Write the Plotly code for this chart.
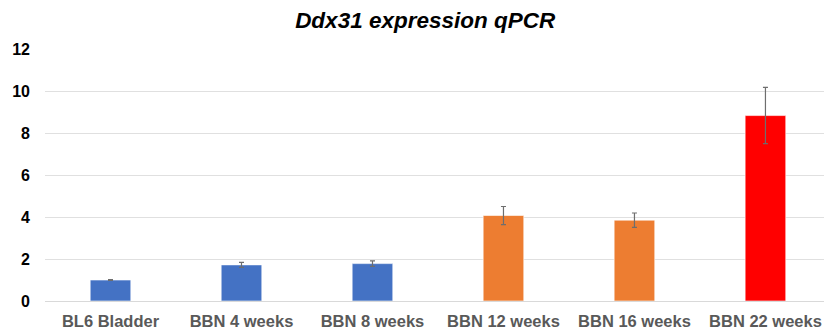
import plotly.graph_objects as go

categories = ["BL6 Bladder", "BBN 4 weeks", "BBN 8 weeks", "BBN 12 weeks", "BBN 16 weeks", "BBN 22 weeks"]
values = [1.0, 1.72, 1.78, 4.07, 3.85, 8.83]
errors = [0.02, 0.12, 0.13, 0.43, 0.34, 1.34]
colors = ["#4472C4", "#4472C4", "#4472C4", "#ED7D31", "#ED7D31", "#FF0000"]
y_ticks = [0, 2, 4, 6, 8, 10, 12]

fig = go.Figure(go.Bar(
    x=categories, y=values,
    marker=dict(color=colors, line=dict(color="rgba(255,255,255,0.6)", width=1)),
    width=0.31,
    error_y=dict(type="data", array=errors, visible=True, color="#6e6e6e", thickness=1.2, width=2.5),
))

fig.update_layout(
    width=824, height=329,
    margin=dict(l=45, r=0, t=49, b=28, autoexpand=False),
    paper_bgcolor="white", plot_bgcolor="white",
    showlegend=False,
    title=dict(text="<b><i>Ddx31 expression qPCR</i></b>", x=0.516, xanchor="center",
               y=1 - 20 / 329, yanchor="middle", yref="container",
               font=dict(family="Liberation Sans, Arial", size=22.5, color="#000000")),
    font=dict(family="Liberation Sans, Arial"),
)
fig.update_xaxes(
    range=[-0.5, 5.447], showgrid=False, showline=False, zeroline=False, ticks="",
    ticklabelstandoff=8, automargin=False,
    tickfont=dict(family="Liberation Sans, Arial", size=16.5, color="#595959", weight="bold"),
)
fig.update_yaxes(
    range=[0, 12], tickvals=y_ticks, showgrid=True, gridcolor="#e0e0e0", gridwidth=1.2,
    zeroline=True, zerolinecolor="#d9d9d9", zerolinewidth=1.2, showline=False, ticks="",
    ticklabelstandoff=14, automargin=False,
    tickfont=dict(family="Liberation Sans, Arial", size=16, color="#000000", weight="bold"),
)

fig.write_html(
    "out.html",
    config={"displayModeBar": False},
    post_script="document.body.style.margin='0';document.body.style.overflow='hidden';",
)
